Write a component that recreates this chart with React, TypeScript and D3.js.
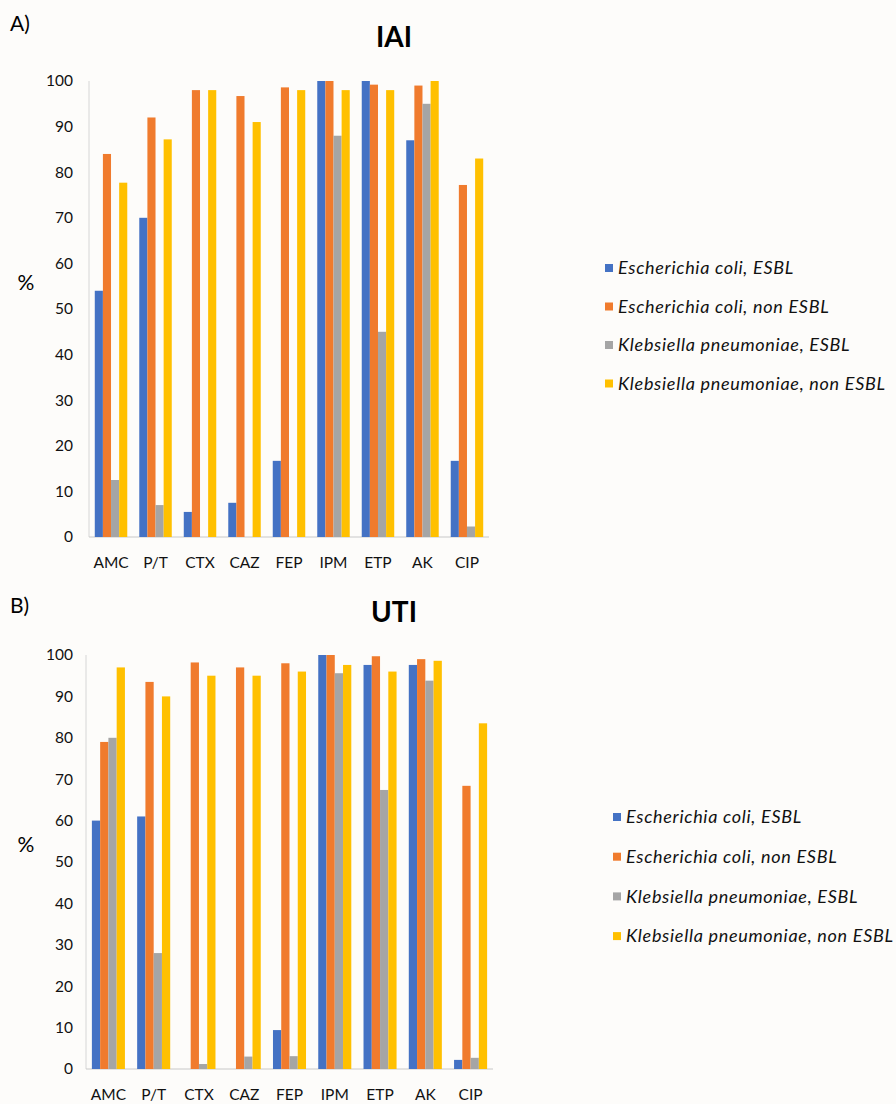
import React from 'react'
import * as d3 from 'd3'

const categories = ['AMC', 'P/T', 'CTX', 'CAZ', 'FEP', 'IPM', 'ETP', 'AK', 'CIP']
const seriesNames = [
  'Escherichia coli, ESBL',
  'Escherichia coli, non ESBL',
  'Klebsiella pneumoniae, ESBL',
  'Klebsiella pneumoniae, non ESBL',
]
const colors = ['#4472C4', '#F07B2D', '#A5A5A5', '#FFC000']
const yTicks = [0, 10, 20, 30, 40, 50, 60, 70, 80, 90, 100]

// IAI panel
const iaiEcoliEsbl = [54, 70, 5.5, 7.5, 16.7, 100, 100, 87, 16.7]
const iaiEcoliNon = [84, 92, 98, 96.7, 98.6, 100, 99.2, 99, 77.2]
const iaiKpEsbl = [12.5, 7, 0, 0, 0, 88, 45, 95, 2.3]
const iaiKpNon = [77.7, 87.2, 98, 91, 98, 98, 98, 100, 83]

// UTI panel
const utiEcoliEsbl = [60, 61, 0, 0, 9.4, 100, 97.6, 97.6, 2.2]
const utiEcoliNon = [79, 93.5, 98.2, 97, 98, 100, 99.7, 99, 68.4]
const utiKpEsbl = [80, 28, 1.2, 3, 3.1, 95.6, 67.4, 93.8, 2.7]
const utiKpNon = [97, 90, 95, 95, 96, 97.6, 96, 98.6, 83.5]

const FONT = 'Lato, "Open Sans", sans-serif'

interface PanelProps {
  letter: string
  title: string
  series: number[][]
  x0: number
  x1: number
  y100: number
  y0: number
  legendX: number
  legendY: number
  legendGap: number
  titleY: number
  letterY: number
  pctY: number
}

function Panel({ letter, title, series, x0, x1, y100, y0, legendX, legendY, legendGap, titleY, letterY, pctY }: PanelProps) {
  const x = d3.scaleBand<string>().domain(categories).range([x0, x1]).paddingInner(0.27).paddingOuter(0.13)
  const inner = d3.scaleBand<number>().domain(d3.range(series.length)).range([0, x.bandwidth()])
  const y = d3.scaleLinear().domain([0, 100]).range([y0, y100])

  return (
    <g>
      <text x={10} y={letterY} fontSize={21} fontFamily={FONT} fill="#000">{letter}</text>
      <text x={394} y={titleY} fontSize={28} fontWeight="bold" fontFamily={FONT} fill="#000" textAnchor="middle">{title}</text>
      <text x={26} y={pctY} dy="0.35em" fontSize={21} fontFamily={FONT} fill="#000" textAnchor="middle">%</text>

      {/* axes */}
      <line x1={x0} x2={x0} y1={y100} y2={y0} stroke="#d6d6d6" />
      <line x1={x0} x2={x1} y1={y0} y2={y0} stroke="#c8c8c8" />

      {yTicks.map(t => (
        <text key={t} x={73} y={y(t)} dy="0.35em" fontSize={15.5} fontFamily={FONT} fill="#111" textAnchor="end">{t}</text>
      ))}

      {series.map((vals, si) => (
        <g key={si}>
          {vals.map((v, ci) => (
            <rect
              key={ci}
              x={(x(categories[ci]) ?? 0) + (inner(si) ?? 0)}
              y={y(v)}
              width={inner.bandwidth()}
              height={y0 - y(v)}
              fill={colors[si]}
            />
          ))}
        </g>
      ))}

      {categories.map(c => (
        <text key={c} x={(x(c) ?? 0) + x.bandwidth() / 2} y={y0 + 31} fontSize={15.5} fontFamily={FONT} fill="#111" textAnchor="middle">{c}</text>
      ))}

      {seriesNames.map((name, i) => (
        <g key={name} transform={`translate(${legendX}, ${legendY + i * legendGap})`}>
          <rect x={0} y={-4} width={8} height={8} fill={colors[i]} />
          <text x={13} y={0} dy="0.35em" fontSize={18} letterSpacing={0.7} fontStyle="italic" fontFamily={FONT} fill="#111">{name}</text>
        </g>
      ))}
    </g>
  )
}

export default function App() {
  return (
    <svg width={896} height={1104} style={{ position: 'absolute', left: 0, top: 0, background: '#fdfcfa' }}>
      <rect width={896} height={1104} fill="#fdfcfa" />
      <Panel
        letter="A)"
        title="IAI"
        series={[iaiEcoliEsbl, iaiEcoliNon, iaiKpEsbl, iaiKpNon]}
        x0={89}
        x1={489}
        y100={81}
        y0={537}
        legendX={605}
        legendY={268}
        legendGap={38.5}
        titleY={47}
        letterY={31}
        pctY={283}
      />
      <Panel
        letter="B)"
        title="UTI"
        series={[utiEcoliEsbl, utiEcoliNon, utiKpEsbl, utiKpNon]}
        x0={86}
        x1={493}
        y100={655}
        y0={1069}
        legendX={613}
        legendY={817}
        legendGap={39.7}
        titleY={622}
        letterY={613}
        pctY={845}
      />
    </svg>
  )
}
